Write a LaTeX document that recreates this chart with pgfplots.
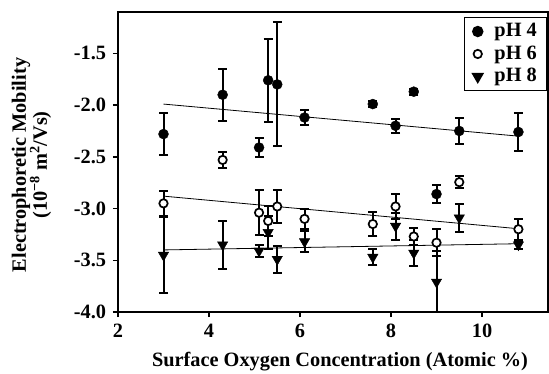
\documentclass[border=0pt]{standalone}
\usepackage{fontspec}
\setmainfont{Liberation Serif}
\usepackage{pgfplots}
\usepackage{pgfplotstable}
\pgfplotsset{compat=1.18}

\pgfplotstableread{
x y e
3.0 -2.28 0.20
4.3 -1.90 0.25
5.1 -2.41 0.09
5.3 -1.76 0.40
5.5 -1.80 0.60
6.1 -2.12 0.07
7.6 -1.99 0.03
8.1 -2.20 0.065
8.5 -1.87 0.03
9.0 -2.86 0.09
9.5 -2.25 0.13
10.8 -2.26 0.18
}\phfour

\pgfplotstableread{
x y e
3.0 -2.95 0.12
4.3 -2.53 0.08
5.1 -3.04 0.22
5.3 -3.12 0.145
5.5 -2.98 0.16
6.1 -3.10 0.10
7.6 -3.15 0.12
8.1 -2.98 0.12
8.5 -3.27 0.08
9.0 -3.33 0.13
9.5 -2.745 0.055
10.8 -3.20 0.10
}\phsix

\pgfplotstableread{
x y e
3.0 -3.45 0.37
4.3 -3.35 0.23
5.1 -3.41 0.06
5.3 -3.23 0.16
5.5 -3.49 0.13
6.1 -3.32 0.10
7.6 -3.47 0.08
8.1 -3.17 0.13
8.5 -3.43 0.13
9.0 -3.71 0.30
9.5 -3.09 0.135
10.8 -3.35 0.04
}\pheight

\newcommand{\bigfont}{\fontsize{20.4}{22}\selectfont\bfseries}

\pgfplotsset{
  myerr/.style={error bars/.cd, y dir=both, y explicit,
    error bar style={line width=2bp, black, solid},
    error mark=-,
    error mark options={rotate=90, line width=2bp, mark size=4.5bp, black}},
}

\begin{document}
\bigfont
\begin{tikzpicture}
\useasboundingbox (-118bp,-62bp) rectangle (431bp,312bp);
\begin{axis}[
  at={(0,0)}, anchor=south west,
  scale only axis, width=430bp, height=300bp,
  xmin=2, xmax=11.45, ymin=-4, ymax=-1.1,
  axis line style={line width=1.8bp},
  xtick={2,4,6,8,10}, ytick={-4,-3.5,-3,-2.5,-2,-1.5},
  tick style={line width=1.5bp, black},
  tick align=outside, tick pos=left, major tick length=5bp,
  xticklabel={\pgfmathprintnumber[assume math mode=true]{\tick}},
  yticklabel={\pgfmathprintnumber[fixed,fixed zerofill,precision=1,assume math mode=true]{\tick}},
  ticklabel style={font=\bigfont},
  legend style={at={(rel axis cs:0.9977,0.983)}, anchor=north east,
    draw=black, line width=1.4bp, font=\bigfont, inner xsep=8bp, inner ysep=4bp,
    row sep=3bp, column sep=10bp, nodes={inner sep=1.5bp}},
  legend cell align=left,
]
\addplot[only marks, mark=*, mark size=5bp, black, mark options={fill=black}, myerr]
  table[x=x, y=y, y error=e] {\phfour};
\addlegendentry{pH 4}
\addplot[only marks, mark=*, mark size=4.2bp, black, mark options={fill=white, draw=black, line width=1.7bp}, myerr]
  table[x=x, y=y, y error=e] {\phsix};
\addlegendentry{pH 6}
\addplot[only marks, mark=triangle*, mark size=6bp, black, mark options={rotate=180, fill=black}, myerr]
  table[x=x, y=y, y error=e] {\pheight};
\addlegendentry{pH 8}
\addplot[forget plot, black, line width=0.8bp] coordinates {(3,-1.99) (10.8,-2.30)};
\addplot[forget plot, black, line width=0.8bp] coordinates {(3,-2.88) (10.8,-3.195)};
\addplot[forget plot, black, line width=0.8bp] coordinates {(3,-3.40) (10.8,-3.34)};
\end{axis}
\node[rotate=90, align=center, anchor=center, inner sep=0pt, font=\bigfont] at (-86.5bp,147bp)
  {Electrophoretic Mobility\\[-1bp](10\textsuperscript{−8} m\textsuperscript{2}/Vs)};
\node[anchor=base, font=\bigfont] at (222bp,-54bp) {Surface Oxygen Concentration (Atomic \%)};
\end{tikzpicture}
\end{document}
